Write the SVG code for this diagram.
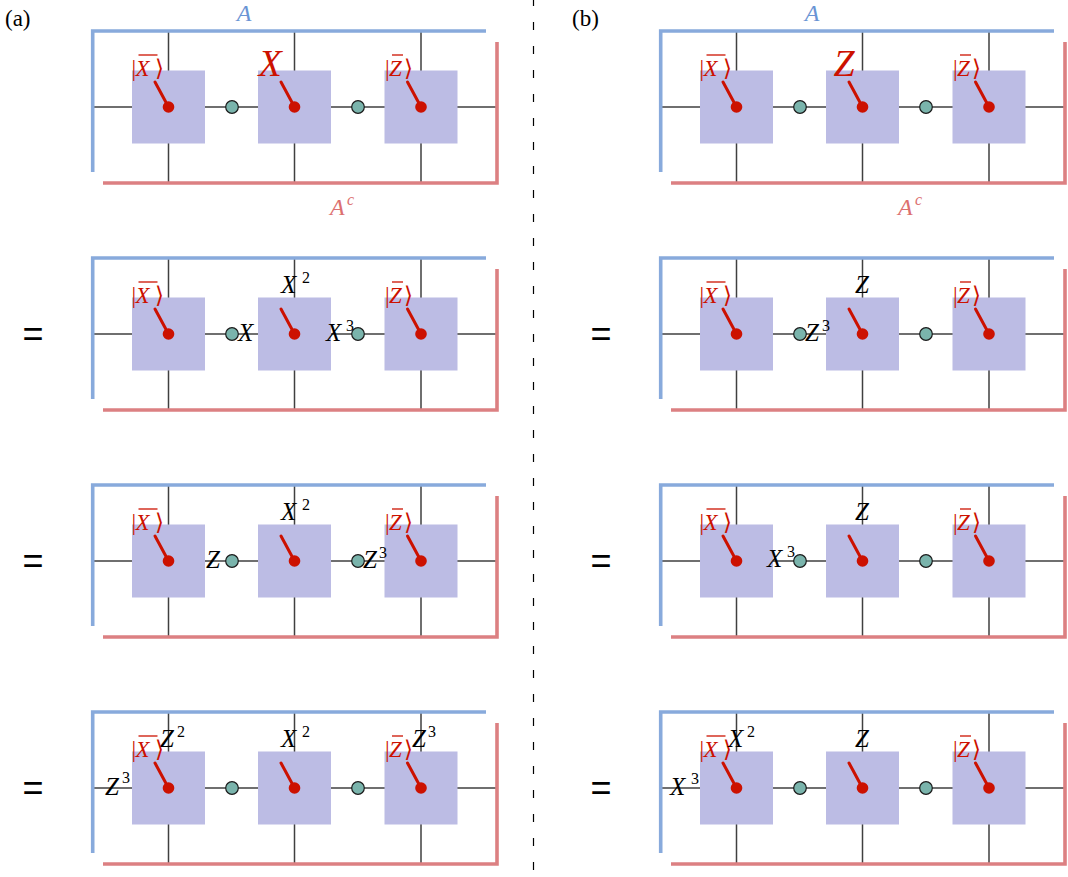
<svg xmlns="http://www.w3.org/2000/svg" width="1068" height="877" viewBox="0 0 1068 877">
<defs>
  <path id="frame" stroke="#404040" stroke-width="1.5" fill="none" d="M92,0H498 M168.5,-76V76 M294.5,-76V76 M421,-76V76"/>
  <g id="brackets" fill="none" stroke-width="3.6">
    <polyline stroke="#88aadc" points="92.7,65 92.7,-76 486,-76"/>
    <polyline stroke="#dc8082" points="103,76 497,76 497,-65"/>
  </g>
  <g id="site">
    <rect fill="#bcbce4" x="-36.5" y="-36.5" width="73" height="73"/>
    <line stroke="#cc1100" stroke-width="3" stroke-linecap="round" x1="-13.5" y1="-25" x2="0" y2="0"/>
    <circle fill="#cc1100" r="5.8"/>
  </g>
  <g id="ketX">
    <text font-family="Liberation Serif" font-size="23" fill="#cc1100" x="-37" y="-31">|</text>
    <text font-family="Liberation Serif" font-size="23" font-style="italic" fill="#cc1100" x="-33" y="-31">X</text>
    <text font-family="Liberation Serif" font-size="23" fill="#cc1100" x="-14" y="-31">⟩</text>
    <line stroke="#cc1100" stroke-width="1.3" x1="-30" y1="-52" x2="-11" y2="-52"/>
  </g>
  <g id="ketZ">
    <text font-family="Liberation Serif" font-size="23" fill="#cc1100" x="-36" y="-31">|</text>
    <text font-family="Liberation Serif" font-size="23" font-style="italic" fill="#cc1100" x="-32" y="-31">Z</text>
    <text font-family="Liberation Serif" font-size="23" fill="#cc1100" x="-17" y="-31">⟩</text>
    <line stroke="#cc1100" stroke-width="1.3" x1="-29" y1="-52" x2="-18" y2="-52"/>
  </g>
  <circle id="bondc" fill="#7ab4ac" stroke="#1a1a1a" stroke-width="1.2" r="6.3"/>
</defs>

<rect width="1068" height="877" fill="#fff"/>

<g id="divider"><line stroke="#000" stroke-width="1.2" stroke-dasharray="8 16" x1="533.5" y1="-2" x2="533.5" y2="877"/></g>
<text id="tag-a" font-family="Liberation Serif" font-size="23" x="5" y="26">(a)</text>
<text id="tag-b" font-family="Liberation Serif" font-size="23" x="572" y="26">(b)</text>

<g id="equals">
  <text font-family="Liberation Sans" font-size="36" text-anchor="middle" x="33" y="346">=</text>
  <text font-family="Liberation Sans" font-size="36" text-anchor="middle" x="33" y="573">=</text>
  <text font-family="Liberation Sans" font-size="36" text-anchor="middle" x="33" y="800">=</text>
  <text font-family="Liberation Sans" font-size="36" text-anchor="middle" x="601" y="346">=</text>
  <text font-family="Liberation Sans" font-size="36" text-anchor="middle" x="601" y="573">=</text>
  <text font-family="Liberation Sans" font-size="36" text-anchor="middle" x="601" y="800">=</text>
</g>

<!-- Panel (a) row 1 -->
<g id="a1" transform="translate(0,107)">
  <g id="a1-connectors"><use href="#frame"/><use href="#brackets"/></g>
  <text font-family="Liberation Serif" font-style="italic" font-size="24" fill="#6a94d4" x="244" y="-86" text-anchor="middle">A</text>
  <text font-family="Liberation Serif" font-style="italic" font-size="24" fill="#dc7070" x="330" y="108">A</text>
  <text font-family="Liberation Serif" font-style="italic" font-size="16" fill="#dc7070" x="347" y="98">c</text>
  <g id="a1-n1" transform="translate(168.5,0)"><use href="#site"/><use href="#ketX"/></g>
  <g id="a1-n2" transform="translate(294.5,0)"><use href="#site"/><text font-family="Liberation Serif" font-style="italic" font-size="38" fill="#cc1100" x="-36" y="-31">X</text></g>
  <g id="a1-n3" transform="translate(421,0)"><use href="#site"/><use href="#ketZ"/></g>
  <g id="a1-b1"><use href="#bondc" x="232"/></g>
  <g id="a1-b2"><use href="#bondc" x="358"/></g>
</g>

<!-- Panel (a) row 2 -->
<g id="a2" transform="translate(0,334)">
  <g id="a2-connectors"><use href="#frame"/><use href="#brackets"/></g>
  <g id="a2-n1" transform="translate(168.5,0)"><use href="#site"/><use href="#ketX"/></g>
  <g id="a2-n2" transform="translate(294.5,0)"><use href="#site"/></g>
  <g id="a2-n3" transform="translate(421,0)"><use href="#site"/><use href="#ketZ"/></g>
  <g id="a2-b1"><use href="#bondc" x="232"/></g>
  <g id="a2-b2"><use href="#bondc" x="358"/></g>
  <text font-family="Liberation Serif" font-style="italic" font-size="25" x="281" y="-41">X</text>
  <text font-family="Liberation Serif" font-size="16" x="302" y="-51">2</text>
  <text font-family="Liberation Serif" font-style="italic" font-size="25" x="238" y="7">X</text>
  <text font-family="Liberation Serif" font-style="italic" font-size="25" x="326" y="7">X</text>
  <text font-family="Liberation Serif" font-size="16" x="346" y="-3">3</text>
</g>

<!-- Panel (a) row 3 -->
<g id="a3" transform="translate(0,561)">
  <g id="a3-connectors"><use href="#frame"/><use href="#brackets"/></g>
  <g id="a3-n1" transform="translate(168.5,0)"><use href="#site"/><use href="#ketX"/></g>
  <g id="a3-n2" transform="translate(294.5,0)"><use href="#site"/></g>
  <g id="a3-n3" transform="translate(421,0)"><use href="#site"/><use href="#ketZ"/></g>
  <g id="a3-b1"><use href="#bondc" x="232"/></g>
  <g id="a3-b2"><use href="#bondc" x="358"/></g>
  <text font-family="Liberation Serif" font-style="italic" font-size="25" x="281" y="-41">X</text>
  <text font-family="Liberation Serif" font-size="16" x="302" y="-51">2</text>
  <text font-family="Liberation Serif" font-style="italic" font-size="25" x="206" y="7">Z</text>
  <text font-family="Liberation Serif" font-style="italic" font-size="25" x="363" y="7">Z</text>
  <text font-family="Liberation Serif" font-size="16" x="379" y="-3">3</text>
</g>

<!-- Panel (a) row 4 -->
<g id="a4" transform="translate(0,788)">
  <g id="a4-connectors"><use href="#frame"/><use href="#brackets"/></g>
  <g id="a4-n1" transform="translate(168.5,0)"><use href="#site"/><use href="#ketX"/></g>
  <g id="a4-n2" transform="translate(294.5,0)"><use href="#site"/></g>
  <g id="a4-n3" transform="translate(421,0)"><use href="#site"/><use href="#ketZ"/></g>
  <g id="a4-b1"><use href="#bondc" x="232"/></g>
  <g id="a4-b2"><use href="#bondc" x="358"/></g>
  <text font-family="Liberation Serif" font-style="italic" font-size="25" x="160" y="-41">Z</text>
  <text font-family="Liberation Serif" font-size="16" x="177" y="-51">2</text>
  <text font-family="Liberation Serif" font-style="italic" font-size="25" x="105" y="7">Z</text>
  <text font-family="Liberation Serif" font-size="16" x="122" y="-5">3</text>
  <text font-family="Liberation Serif" font-style="italic" font-size="25" x="281" y="-41">X</text>
  <text font-family="Liberation Serif" font-size="16" x="302" y="-51">2</text>
  <text font-family="Liberation Serif" font-style="italic" font-size="25" x="412" y="-41">Z</text>
  <text font-family="Liberation Serif" font-size="16" x="428" y="-51">3</text>
</g>

<!-- Panel (b) row 1 -->
<g id="b1" transform="translate(568,107)">
  <g id="b1-connectors"><use href="#frame"/><use href="#brackets"/></g>
  <text font-family="Liberation Serif" font-style="italic" font-size="24" fill="#6a94d4" x="244" y="-86" text-anchor="middle">A</text>
  <text font-family="Liberation Serif" font-style="italic" font-size="24" fill="#dc7070" x="330" y="108">A</text>
  <text font-family="Liberation Serif" font-style="italic" font-size="16" fill="#dc7070" x="347" y="98">c</text>
  <g id="b1-n1" transform="translate(168.5,0)"><use href="#site"/><use href="#ketX"/></g>
  <g id="b1-n2" transform="translate(294.5,0)"><use href="#site"/><text font-family="Liberation Serif" font-style="italic" font-size="38" fill="#cc1100" x="-29" y="-31">Z</text></g>
  <g id="b1-n3" transform="translate(421,0)"><use href="#site"/><use href="#ketZ"/></g>
  <g id="b1-b1"><use href="#bondc" x="232"/></g>
  <g id="b1-b2"><use href="#bondc" x="358"/></g>
</g>

<!-- Panel (b) row 2 -->
<g id="b2" transform="translate(568,334)">
  <g id="b2-connectors"><use href="#frame"/><use href="#brackets"/></g>
  <g id="b2-n1" transform="translate(168.5,0)"><use href="#site"/><use href="#ketX"/></g>
  <g id="b2-n2" transform="translate(294.5,0)"><use href="#site"/></g>
  <g id="b2-n3" transform="translate(421,0)"><use href="#site"/><use href="#ketZ"/></g>
  <g id="b2-b1"><use href="#bondc" x="232"/></g>
  <g id="b2-b2"><use href="#bondc" x="358"/></g>
  <text font-family="Liberation Serif" font-style="italic" font-size="25" x="287" y="-41">Z</text>
  <text font-family="Liberation Serif" font-style="italic" font-size="25" x="237" y="7">Z</text>
  <text font-family="Liberation Serif" font-size="16" x="254" y="-3">3</text>
</g>

<!-- Panel (b) row 3 -->
<g id="b3" transform="translate(568,561)">
  <g id="b3-connectors"><use href="#frame"/><use href="#brackets"/></g>
  <g id="b3-n1" transform="translate(168.5,0)"><use href="#site"/><use href="#ketX"/></g>
  <g id="b3-n2" transform="translate(294.5,0)"><use href="#site"/></g>
  <g id="b3-n3" transform="translate(421,0)"><use href="#site"/><use href="#ketZ"/></g>
  <g id="b3-b1"><use href="#bondc" x="232"/></g>
  <g id="b3-b2"><use href="#bondc" x="358"/></g>
  <text font-family="Liberation Serif" font-style="italic" font-size="25" x="287" y="-41">Z</text>
  <text font-family="Liberation Serif" font-style="italic" font-size="25" x="199" y="6">X</text>
  <text font-family="Liberation Serif" font-size="16" x="219" y="-4">3</text>
</g>

<!-- Panel (b) row 4 -->
<g id="b4" transform="translate(568,788)">
  <g id="b4-connectors"><use href="#frame"/><use href="#brackets"/></g>
  <g id="b4-n1" transform="translate(168.5,0)"><use href="#site"/><use href="#ketX"/></g>
  <g id="b4-n2" transform="translate(294.5,0)"><use href="#site"/></g>
  <g id="b4-n3" transform="translate(421,0)"><use href="#site"/><use href="#ketZ"/></g>
  <g id="b4-b1"><use href="#bondc" x="232"/></g>
  <g id="b4-b2"><use href="#bondc" x="358"/></g>
  <text font-family="Liberation Serif" font-style="italic" font-size="25" x="160" y="-41">X</text>
  <text font-family="Liberation Serif" font-size="16" x="179" y="-51">2</text>
  <text font-family="Liberation Serif" font-style="italic" font-size="25" x="102" y="7">X</text>
  <text font-family="Liberation Serif" font-size="16" x="123" y="-4">3</text>
  <text font-family="Liberation Serif" font-style="italic" font-size="25" x="287" y="-41">Z</text>
</g>
</svg>
